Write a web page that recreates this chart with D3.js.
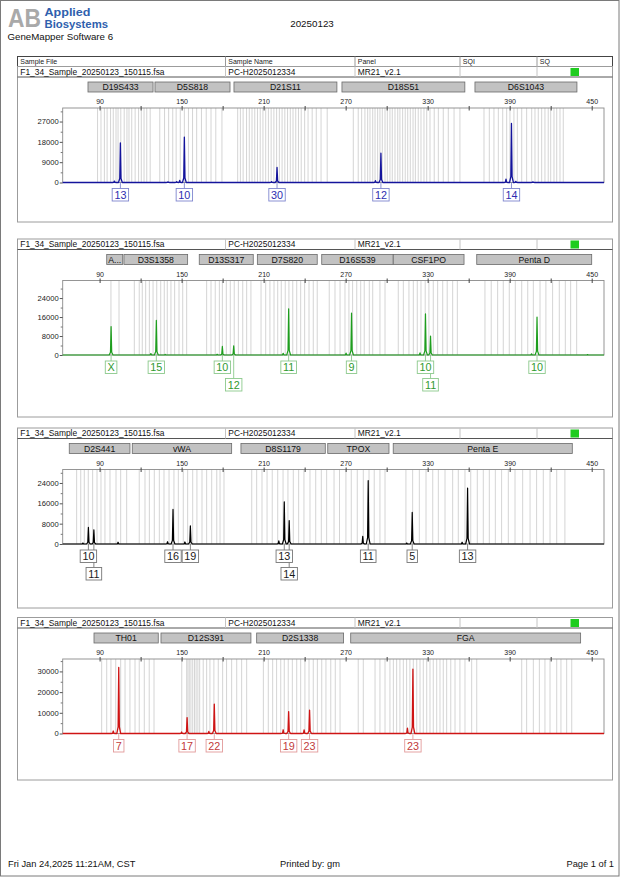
<!DOCTYPE html>
<html>
<head>
<meta charset="utf-8">
<script src="https://cdn.jsdelivr.net/npm/d3@7"></script>
<style>
  body { margin: 0; background: #fff; }
  svg text { font-family: "Liberation Sans", Arial, sans-serif; }
</style>
</head>
<body>
<div id="chart"></div>
<script>
// ---- run info ----
const runTitle = "20250123";
const sampleFile = "F1_34_Sample_20250123_150115.fsa";
const sampleName = "PC-H2025012334";
const panelName = "MR21_v2.1";
const tableHeaders = ["Sample File", "Sample Name", "Panel", "SQI", "SQ"];
const footerDate = "Fri Jan 24,2025 11:21AM, CST";
const footerUser = "Printed by: gm";
const footerPage = "Page 1 of 1";

// size axis (bp)
const sizeLabels = [90, 150, 210, 270, 330, 390, 450];
const sizeTicks = [90, 120, 150, 180, 210, 240, 270, 300, 330, 360, 390, 420, 450];

// ---- blue dye ----
const blueLoci = [["D19S433", 81.5, 129.1], ["D5S818", 130.5, 185.4], ["D21S11", 188.3, 263.6],
  ["D18S51", 267.3, 357.2], ["D6S1043", 364.6, 439.2]];
const blueBins = [88.5, 91, 93.5, 95.5, 98, 100, 102, 103.5, 105.5, 108, 110, 111.5, 113.5, 116, 118.5, 120.5, 122.5, 124.5, 127,
  134, 137.5, 140.5, 143.5, 146, 149, 152, 155, 158, 161, 164.5, 168, 171.5, 175, 179.5,
  191, 193, 195, 197.5, 199.5, 201.5, 203.5, 205.5, 207.5, 209.5, 211.5, 213.5, 215.5, 217.5, 219.5, 221.5, 223.5,
  225.5, 227.5, 229.5, 231.5, 233.5, 235.5, 237.5, 240, 242.5, 245.5, 248.5, 252, 256.5,
  275.6, 279.2, 281.7, 284.1, 286.1, 287.8, 289.8, 291.5, 293.4, 295.1, 296.8, 298.8, 300.5, 302.4, 304.1, 306.1,
  308.1, 309.7, 311.7, 313.6, 315.4, 317.3, 319.3, 321, 323.1, 325.1, 327.3, 329.3, 331.7, 334.8, 337.8, 341.4,
  345.1, 349.3, 353.6,
  371.2, 375.1, 378.5, 381.7, 384.9, 387.8, 390.2, 393.1, 395.6, 398.8, 402.4, 406.1, 408.5, 410.9, 413.4, 415.8,
  418.2, 420, 422.4, 424.4, 426.8, 429.2];
// [size bp, height rfu, allele, label row]
const bluePeaks = [[100.8, 600, "", 0], [105.2, 17500, "13", 1], [140, 300, "", 0], [146.4, 400, "", 0],
  [148.6, 900, "", 0], [152, 20100, "10", 1], [215.8, 400, "", 0], [219.8, 6650, "30", 1],
  [291.8, 800, "", 0], [295.8, 13000, "12", 1], [387.3, 1500, "", 0], [391.3, 26150, "14", 1],
  [394.5, 500, "", 0], [407, 300, "", 0]];
const blueTicks = [0, 9000, 18000, 27000];
const blueMax = 33000;

// ---- green dye ----
const greenLoci = [["A...", 95.2, 106.9], ["D3S1358", 107.8, 154.4], ["D13S317", 162.9, 202.4],
  ["D7S820", 205.4, 249.2], ["D16S539", 252.5, 304.8], ["CSF1PO", 304.8, 356.6], ["Penta D", 365.9, 450]];
const greenBins = [98.3, 104.2,
  115.4, 119, 121.2, 123.7, 126.4, 129.1, 131.8, 134.7, 137.3, 139.5, 142.2, 144.9, 148.1, 150.8, 153.7,
  168.3, 171.5, 174.6, 177.6, 179.8, 182.7, 185.6, 188.5, 191.5, 194.7, 197.6, 200.7,
  208.1, 211.5, 214.6, 217.6, 220.3, 222.9, 225.8, 228.5, 231.3, 234.2, 237.1, 240, 243.2, 246.3, 249.2,
  258, 262.2, 265.9, 269.5, 272.4, 275.1, 278.1, 281, 283.6, 287.3, 289.8, 295.1, 298.8,
  308.5, 312.2, 316.3, 319.5, 322.4, 325.1, 328.2, 330.9, 334.1, 337.3, 341, 344.3, 348.3, 351.7,
  371.9, 376.5, 381.2, 385.3, 389.7, 394.1, 398.8, 403.2, 407.3, 412.2, 416.5, 421.4, 426.3, 430.7, 434.6, 439];
const greenPeaks = [[98.4, 12000, "X", 1], [127.5, 600, "", 0], [131.5, 14600, "15", 1], [138, 250, "", 0],
  [176, 300, "", 0], [179.8, 3600, "10", 1], [188.1, 3900, "12", 2], [224.3, 700, "", 0], [228.3, 19500, "11", 1],
  [270.3, 800, "", 0], [274.3, 17700, "9", 1], [324.4, 900, "", 0], [328.4, 17300, "10", 1], [332.1, 8000, "11", 2],
  [406, 500, "", 0], [410, 16000, "10", 1], [447, 200, "", 0]];
const greenTicks = [0, 8000, 16000, 24000];
const greenMax = 31400;

// ---- black dye ----
const blackLoci = [["D2S441", 67.8, 112.2], ["vWA", 113.9, 186.6], ["D8S1179", 193.4, 255.1],
  ["TPOX", 256.9, 301.7], ["Penta E", 304.8, 435.8]];
const blackBins = [73.2, 76.2, 78.8, 81.7, 84.9, 88.1, 91, 93.9, 97.6, 102, 105.4, 109.8,
  119, 123.2, 126.4, 130, 133.7, 137.1, 140.8, 144.4, 147.6, 151.2, 154.4, 158.1, 161.2, 164.9, 168.3, 172, 175.7, 178.1, 181,
  201.3, 204.9, 208.8, 212.5, 216.3, 220.3, 224.2, 227.8, 231.7, 235.6, 239.5, 243.9, 248.1, 252.2, 256.1,
  261.5, 265.5, 270.2, 274.1, 278.5, 282.9, 287.1, 290.9, 295.1, 298.8,
  314.1, 319, 323.9, 328.8, 333.7, 337.8, 342.7, 348.3, 352.4, 357.3, 361.5, 366.3, 370.7, 375.1, 379.5, 384.1,
  389, 393.9, 399.5, 404.9, 409.7, 414.6, 419.5, 424.4, 430.4];
const blackPeaks = [[77.8, 400, "", 0], [81.8, 6500, "10", 1], [85.8, 5600, "11", 2], [103.5, 700, "", 0],
  [139.7, 900, "", 0], [143.7, 13600, "16", 1], [152.4, 800, "", 0], [156.4, 7100, "19", 1],
  [221.1, 1200, "", 0], [225.1, 16600, "13", 1], [228.7, 9200, "14", 2], [282.5, 3000, "", 0],
  [286.5, 24900, "11", 1], [314.7, 400, "", 0], [318.7, 12400, "5", 1], [355.2, 700, "", 0], [359.2, 22000, "13", 1]];
const blackTicks = [0, 8000, 16000, 24000];
const blackMax = 29300;

// ---- red dye ----
const redLoci = [["TH01", 85.9, 132.9], ["D12S391", 134.9, 200.7], ["D2S1338", 204.9, 268.5], ["FGA", 273.7, 441.9]];
const redBins = [91.5, 95.2, 98.3, 101.8, 105.4, 108.6, 112.2, 115.9, 119, 122.7, 126.3, 129.8,
  150.1, 153.7, 154.6, 155.6, 156.8, 158.1, 159.4, 160.6, 161.9, 163.2, 165.8, 168.3, 170.7, 173.6,
  176.8, 180, 182.9, 186.6, 190.3, 193.9, 197.6,
  209.8, 213.4, 216.6, 219.5, 222.5, 225.1, 228, 231, 234.2, 237.1, 240.2, 243.2, 246.3, 249.3, 252.5, 255.6,
  259.1, 262.4, 265.9,
  279.2, 282.9, 291.5, 295.1, 298.8, 302.4, 304.9, 307.3, 309.7, 312.2, 314.6, 317, 319.5, 322, 324.4, 326.8,
  329.3, 331.7, 334.1, 336.6, 339, 341.4, 343.9, 346.9, 350, 353.6, 357.3, 362.2, 365.9,
  398.8, 402.4, 407.3, 411.7, 415.8, 419.5, 424.4, 427.5, 431.7, 435.4];
const redPeaks = [[100, 1200, "", 0], [104, 31900, "7", 1], [150, 700, "", 0], [154, 7700, "17", 1],
  [169.9, 1000, "", 0], [173.9, 14200, "22", 1], [224.3, 1800, "", 0], [228.3, 10600, "19", 1],
  [239.6, 1700, "", 0], [243.6, 11300, "23", 1], [315.2, 2600, "", 0], [319.2, 31100, "23", 1]];
const redTicks = [0, 10000, 20000, 30000];
const redMax = 36000;

// ---- page ----
const W = 620, H = 877;
const svg = d3.select('#chart').append('svg')
  .attr('width', W).attr('height', H);

svg.append('rect')
  .attr('x', 0.5).attr('y', 0.5).attr('width', W - 1.5).attr('height', H - 1.5)
  .attr('fill', '#fff').attr('stroke', '#7a7a7a');

// logo + titles
svg.append('text').attr('x', 8).attr('y', 26.5)
  .attr('font-size', 25).attr('font-weight', 'bold')
  .attr('fill', '#a9a9a9').attr('textLength', 33).attr('lengthAdjust', 'spacingAndGlyphs')
  .text('AB');
svg.append('text').attr('x', 44.5).attr('y', 15.8)
  .attr('font-size', 10.8).attr('font-weight', 'bold').attr('fill', '#2f5fae')
  .attr('textLength', 46).attr('lengthAdjust', 'spacingAndGlyphs').text('Applied');
svg.append('text').attr('x', 44.5).attr('y', 28.2)
  .attr('font-size', 10.8).attr('font-weight', 'bold').attr('fill', '#2f5fae')
  .attr('textLength', 63.5).attr('lengthAdjust', 'spacingAndGlyphs').text('Biosystems');
svg.append('text').attr('x', 7.5).attr('y', 40).attr('font-size', 9.7).attr('fill', '#111')
  .text('GeneMapper Software 6');
svg.append('text').attr('x', 312).attr('y', 27).attr('font-size', 9.8).attr('fill', '#111')
  .attr('text-anchor', 'middle').text(runTitle);

// table header row
const colX = [17.5, 225.5, 355, 460, 537];
svg.append('rect').attr('x', 17.5).attr('y', 56.5).attr('width', 595).attr('height', 10)
  .attr('fill', '#fff').attr('stroke', '#444');
colX.slice(1).forEach(cx => {
  svg.append('line').attr('x1', cx).attr('x2', cx).attr('y1', 56.5).attr('y2', 66.5)
    .attr('stroke', '#999');
});
tableHeaders.forEach((t, i) => {
  svg.append('text').attr('x', colX[i] + 2.8).attr('y', 64).attr('font-size', 7).attr('fill', '#222').text(t);
});

// footer
svg.append('text').attr('x', 8).attr('y', 867).attr('font-size', 9.3).attr('fill', '#111').text(footerDate);
svg.append('text').attr('x', 310).attr('y', 867).attr('font-size', 9.3).attr('fill', '#111')
  .attr('text-anchor', 'middle').text(footerUser);
svg.append('text').attr('x', 614).attr('y', 867).attr('font-size', 9.3).attr('fill', '#111')
  .attr('text-anchor', 'end').text(footerPage);

// shared size scale
const x = d3.scaleLinear().domain([63, 459]).range([62.7, 604]);

const panels = [
  { div: 77, bottom: 222, loci: blueLoci, bins: blueBins, peaks: bluePeaks, ticks: blueTicks, max: blueMax,
    color: '#14149c', text: '#2d2db0', box: '#7f86cf', width: 1.3 },
  { div: 249.5, bottom: 417, loci: greenLoci, bins: greenBins, peaks: greenPeaks, ticks: greenTicks, max: greenMax,
    color: '#1e9e1e', text: '#2f9a2f', box: '#8cc98c', width: 1.2 },
  { div: 438.5, bottom: 608, loci: blackLoci, bins: blackBins, peaks: blackPeaks, ticks: blackTicks, max: blackMax,
    color: '#000000', text: '#1a1a1a', box: '#777777', width: 1.2 },
  { div: 628, bottom: 780, loci: redLoci, bins: redBins, peaks: redPeaks, ticks: redTicks, max: redMax,
    color: '#cf1414', text: '#c23a3a', box: '#e29a9a', width: 1.3 }
];

panels.forEach(drawPanel);

function drawPanel(p) {
  const g = svg.append('g');
  const top = p.div - 10.5;
  const plotTop = p.div + 31;
  const zero = p.div + 105.5;

  // panel frame
  g.append('rect').attr('x', 17.5).attr('y', top).attr('width', 595).attr('height', p.bottom - top)
    .attr('fill', 'none').attr('stroke', '#9c9c9c');
  g.append('line').attr('x1', 17.5).attr('x2', 612.5).attr('y1', p.div).attr('y2', p.div)
    .attr('stroke', '#555');
  colX.slice(1).forEach(cx => {
    g.append('line').attr('x1', cx).attr('x2', cx).attr('y1', top).attr('y2', p.div)
      .attr('stroke', '#c4c4c4');
  });
  [sampleFile, sampleName, panelName].forEach((t, i) => {
    g.append('text').attr('x', colX[i] + 2.8).attr('y', p.div - 2.2)
      .attr('font-size', 8.4).attr('fill', '#111').text(t);
  });
  g.append('rect').attr('x', 570.5).attr('y', top + 1.5).attr('width', 8.5).attr('height', 8)
    .attr('fill', '#1fcc1f');

  // locus boxes
  p.loci.forEach(([name, a, b]) => {
    g.append('rect').attr('x', x(a)).attr('y', p.div + 5).attr('width', x(b) - x(a)).attr('height', 10)
      .attr('fill', '#c2c2c2').attr('stroke', '#6a6a6a').attr('stroke-width', 0.8);
    g.append('text').attr('x', (x(a) + x(b)) / 2).attr('y', p.div + 13.2)
      .attr('text-anchor', 'middle').attr('font-size', 8.7).attr('fill', '#111').text(name);
  });

  const y = d3.scaleLinear().domain([0, p.max]).range([zero, plotTop]);

  // bins
  g.append('g').selectAll('line')
    .data(p.bins)
    .enter()
    .append('line')
    .attr('x1', d => x(d)).attr('x2', d => x(d))
    .attr('y1', plotTop).attr('y2', zero)
    .attr('stroke', '#c9c9c9').attr('stroke-width', 0.8);

  // plot frame
  g.append('rect').attr('x', x.range()[0]).attr('y', plotTop)
    .attr('width', x.range()[1] - x.range()[0]).attr('height', zero - plotTop)
    .attr('fill', 'none').attr('stroke', '#8a8a8a').attr('stroke-width', 0.9);

  // size axis on top
  const topAxis = g.append('g')
    .attr('transform', `translate(0,${plotTop})`)
    .call(d3.axisTop(x).tickValues(sizeTicks).tickSize(3).tickPadding(0.8)
      .tickFormat(d => sizeLabels.includes(d) ? d : ''));
  topAxis.select('.domain').remove();
  topAxis.selectAll('line').attr('stroke', '#444').attr('y2', 2.5).attr('y1', -2);
  topAxis.selectAll('text').attr('font-size', 7).attr('fill', '#222')
    .attr('font-family', '"Liberation Sans", Arial, sans-serif');

  // rfu axis
  const step = p.ticks[1] - p.ticks[0];
  const minor = p.ticks.map(t => t + step / 2).filter(t => t < p.max);
  const leftAxis = g.append('g')
    .attr('transform', `translate(${x.range()[0]},0)`)
    .call(d3.axisLeft(y).tickValues(p.ticks).tickSize(3).tickPadding(1).tickFormat(d3.format('d')));
  leftAxis.select('.domain').remove();
  leftAxis.selectAll('line').attr('stroke', '#555');
  leftAxis.selectAll('text').attr('font-size', 7.6).attr('fill', '#222')
    .attr('font-family', '"Liberation Sans", Arial, sans-serif');
  const minorAxis = g.append('g')
    .attr('transform', `translate(${x.range()[0]},0)`)
    .call(d3.axisLeft(y).tickValues(minor).tickSize(2).tickFormat(''));
  minorAxis.select('.domain').remove();
  minorAxis.selectAll('line').attr('stroke', '#777');

  // trace
  const sorted = p.peaks.slice().sort((a, b) => a[0] - b[0]);
  const pts = [[x.domain()[0], 0]];
  sorted.forEach(([bp, h]) => {
    pts.push([bp - 1.4, 0], [bp - 0.45, h * 0.1], [bp, h], [bp + 0.45, h * 0.1], [bp + 1.4, 0]);
  });
  pts.push([x.domain()[1], 0]);
  const line = d3.line().x(d => x(d[0])).y(d => y(d[1]));
  g.append('path').datum(pts)
    .attr('d', line)
    .attr('fill', 'none').attr('stroke', p.color).attr('stroke-width', p.width)
    .attr('stroke-linejoin', 'round');

  // allele labels
  const called = p.peaks.filter(d => d[2] !== '');
  called.forEach(([bp, h, allele, row]) => {
    const by = row === 1 ? zero + 6 : zero + 23.5;
    g.append('line').attr('x1', x(bp)).attr('x2', x(bp)).attr('y1', zero).attr('y2', by)
      .attr('stroke', p.box).attr('stroke-width', 0.9);
  });
  called.forEach(([bp, h, allele, row]) => {
    const by = row === 1 ? zero + 6 : zero + 23.5;
    const lg = g.append('g');
    const t = lg.append('text').attr('x', x(bp)).attr('y', by + 10)
      .attr('text-anchor', 'middle').attr('font-size', 10.8)
      .attr('font-family', '"Liberation Serif", "Times New Roman", serif')
      .attr('fill', p.text).text(allele);
    const tw = t.node().getComputedTextLength();
    lg.insert('rect', 'text').attr('x', x(bp) - tw / 2 - 2.2).attr('y', by)
      .attr('width', tw + 4.4).attr('height', 12.5)
      .attr('fill', '#fff').attr('stroke', p.box).attr('stroke-width', 0.9);
  });
}
</script>
</body>
</html>
